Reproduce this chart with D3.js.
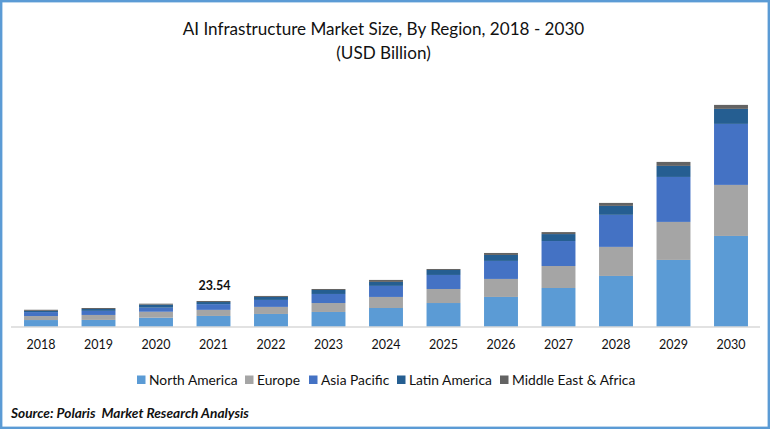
<!DOCTYPE html>
<html>
<head>
<meta charset="utf-8">
<script src="https://cdn.jsdelivr.net/npm/d3@7"></script>
<style>
  html, body { margin: 0; padding: 0; background: #fff; }
  svg { display: block; }
  text { font-family: Lato, "Open Sans", sans-serif; fill: #111; white-space: pre; }
</style>
</head>
<body>
<div id="chart"></div>
<script>
// values (USD billion)
const years = ["2018", "2019", "2020", "2021", "2022", "2023", "2024", "2025", "2026", "2027", "2028", "2029", "2030"];
const regions = ["North America", "Europe", "Asia Pacific", "Latin America", "Middle East & Africa"];
const northAmerica = [6.3, 6.4, 8.4, 10.0, 11.8, 13.6, 17.2, 21.7, 27.2, 35.3, 46.2, 60.7, 82.4];
const europe = [3.6, 4.5, 5.4, 5.5, 6.4, 8.1, 10.0, 12.7, 16.3, 19.9, 26.3, 34.4, 46.2];
const asiaPacific = [3.6, 3.7, 3.7, 5.2, 6.3, 8.2, 10.0, 12.7, 16.3, 22.6, 29.0, 40.7, 55.2];
const latinAmerica = [1.1, 1.7, 2.7, 1.9, 2.7, 3.6, 3.6, 4.5, 5.4, 6.3, 8.1, 10.0, 13.6];
const middleEastAfrica = [1.0, 0.9, 0.9, 0.94, 0.9, 0.9, 1.8, 0.9, 1.8, 1.8, 2.7, 3.6, 3.6];
const colors = ["#5b9bd5", "#a5a5a5", "#4472c4", "#255e91", "#636363"];
const labelYear = "2021";
const labelText = "23.54";

const width = 770;
const height = 429;
const baseY = 327;
const yMax = 200;

const svg = d3.select("#chart")
    .append("svg")
    .attr("width", width)
    .attr("height", height);

// Frame
svg.append("rect")
    .attr("x", 1.2)
    .attr("y", 1.2)
    .attr("width", width - 2.4)
    .attr("height", height - 2.4)
    .attr("fill", "#fff")
    .attr("stroke", "#5b9bd5")
    .attr("stroke-width", 2.4);

// Title
svg.append("text")
    .attr("x", 383.5)
    .attr("y", 35)
    .attr("text-anchor", "middle")
    .style("font-size", "17.1px")
    .text("AI Infrastructure Market Size, By Region, 2018 - 2030");

svg.append("text")
    .attr("x", 383.5)
    .attr("y", 58.5)
    .attr("text-anchor", "middle")
    .style("font-size", "17.1px")
    .text("(USD Billion)");

// Scales
const x = d3.scaleBand()
    .domain(years)
    .range([12.25, 759.75])
    .paddingInner(0.41)
    .paddingOuter(0.205);

const y = d3.scaleLinear()
    .domain([0, yMax])
    .range([baseY, 106]);

// Stack the series
const rows = years.map((year, i) => ({
    year: year,
    "North America": northAmerica[i],
    "Europe": europe[i],
    "Asia Pacific": asiaPacific[i],
    "Latin America": latinAmerica[i],
    "Middle East & Africa": middleEastAfrica[i]
}));

const stacked = d3.stack().keys(regions)(rows);

svg.selectAll("g.series")
    .data(stacked)
    .enter()
    .append("g")
    .attr("class", "series")
    .attr("fill", (d, i) => colors[i])
    .selectAll("rect")
    .data(d => d)
    .enter()
    .append("rect")
    .attr("x", d => x(d.data.year))
    .attr("y", d => y(d[1]))
    .attr("width", x.bandwidth())
    .attr("height", d => y(d[0]) - y(d[1]));

// Axis
const axis = svg.append("g")
    .attr("transform", `translate(0,${baseY})`)
    .call(d3.axisBottom(x).tickSize(0).tickPadding(13.5));

axis.select(".domain")
    .attr("stroke", "#d9d9d9")
    .attr("stroke-width", 1.5)
    .attr("d", "M11,0H760");

axis.selectAll("text")
    .style("font-size", "12.5px")
    .style("font-family", "Lato, 'Open Sans', sans-serif");

// Data label on the one annotated bar
const labelTop = d3.sum([northAmerica, europe, asiaPacific, latinAmerica, middleEastAfrica], s => s[years.indexOf(labelYear)]);
svg.append("text")
    .attr("x", x(labelYear) + x.bandwidth() / 2 + 1)
    .attr("y", y(labelTop) - 11)
    .attr("text-anchor", "middle")
    .style("font-size", "12.5px")
    .style("font-weight", "700")
    .text(labelText);

// Legend
const legendX = [137, 245, 309, 397, 500];
const legend = svg.selectAll("g.legend")
    .data(regions)
    .enter()
    .append("g")
    .attr("class", "legend")
    .attr("transform", (d, i) => `translate(${legendX[i]},375.5)`);

legend.append("rect")
    .attr("width", 8.5)
    .attr("height", 8.5)
    .attr("fill", (d, i) => colors[i]);

legend.append("text")
    .attr("x", 12)
    .attr("y", 9)
    .style("font-size", "13.8px")
    .text(d => d);

// Source
svg.append("text")
    .attr("x", 11)
    .attr("y", 418)
    .style("font-size", "13.7px")
    .style("font-weight", "700")
    .style("font-style", "italic")
    .text("Source: Polaris  Market Research Analysis");
</script>
</body>
</html>
